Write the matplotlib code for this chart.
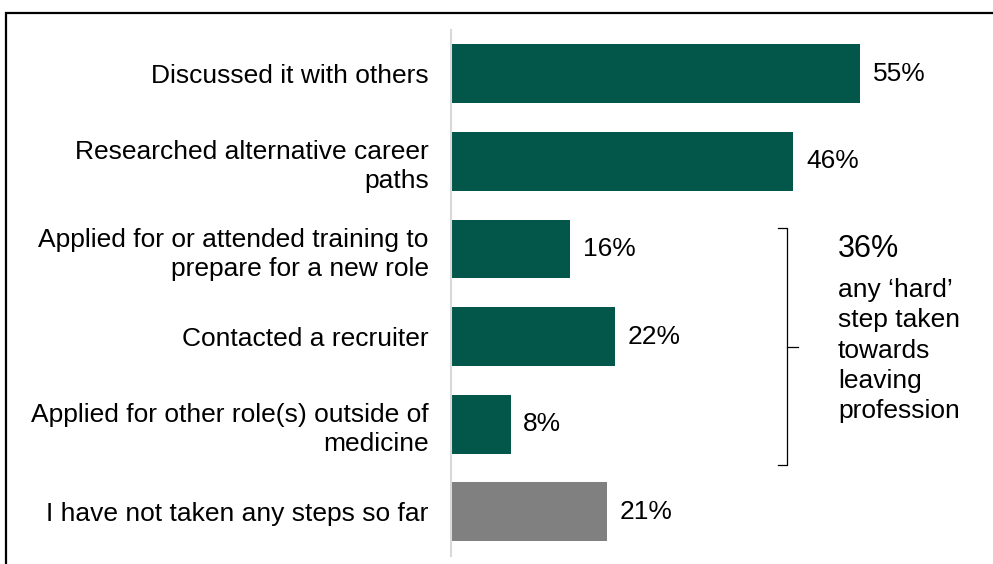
import matplotlib
matplotlib.use("Agg")
import matplotlib.pyplot as plt
from matplotlib.patches import Rectangle

plt.rcParams['font.family'] = ['Liberation Sans', 'DejaVu Sans']

labels = [
    "Discussed it with others",
    "Researched alternative career\npaths",
    "Applied for or attended training to\nprepare for a new role",
    "Contacted a recruiter",
    "Applied for other role(s) outside of\nmedicine",
    "I have not taken any steps so far",
]
values = [55, 46, 16, 22, 8, 21]
colors = ["#02574A"] * 5 + ["#808080"]

hard_total = 36
hard_text = "any \u2018hard\u2019\nstep taken\ntowards\nleaving\nprofession"

fs = 19

fig = plt.figure(figsize=(9.93, 5.64), dpi=100)
ax = fig.add_axes([451 / 993, 1 - 555.6 / 564, 542 / 993, 525.6 / 564])

y = list(range(len(labels)))
ax.barh(y, values, height=0.67, color=colors)
ax.set_xlim(0, 72.85)
ax.set_ylim(5.5, -0.5)

for yi, v in zip(y, values):
    ax.text(v + 1.7, yi, f"{v}%", va="center", ha="left", fontsize=fs)

ax.set_yticks(y)
ax.set_yticklabels(labels, fontsize=fs, ha="right", multialignment="right",
                   linespacing=1.27)
ax.tick_params(axis="y", length=0, pad=16)
ax.set_xticks([])
for side in ["top", "right", "bottom"]:
    ax.spines[side].set_visible(False)
ax.spines["left"].set_color("#D9D9D9")
ax.spines["left"].set_linewidth(1.5)

# bracket grouping the 'hard' steps
bx, by0, by1, bmid = 45.2, 1.76, 4.47, 3.12
ax.plot([bx - 1.3, bx, bx, bx - 1.3], [by0, by0, by1, by1],
        color="black", lw=0.9, clip_on=False)
ax.plot([bx, bx + 1.4], [bmid, bmid], color="black", lw=0.9, clip_on=False)
ax.text(52.0, 2.0, f"{hard_total}%", fontsize=22, va="center", ha="left")
ax.text(52.0, 3.16, hard_text, fontsize=fs, va="center", ha="left",
        linespacing=1.33)

# frame around the figure
fig.patches.append(Rectangle((6 / 993, -0.1), 1.2, 1 - 13 / 564 + 0.1,
                             transform=fig.transFigure, fill=False,
                             edgecolor="black", lw=1.6))

fig.savefig("out.png", dpi=100)
